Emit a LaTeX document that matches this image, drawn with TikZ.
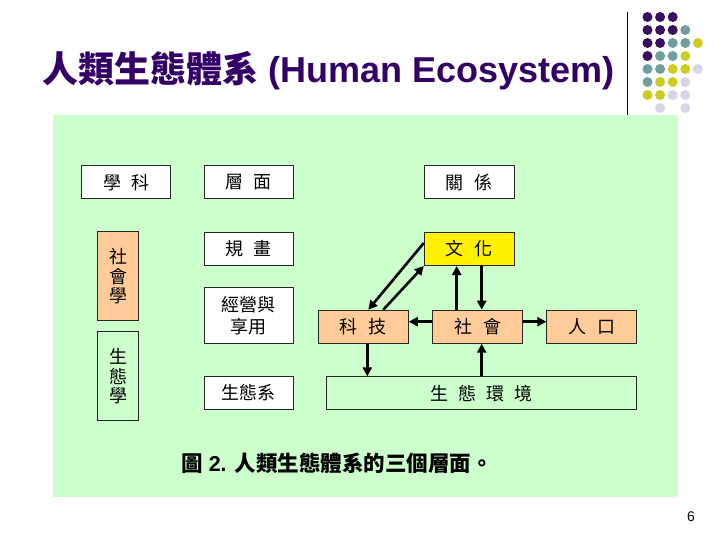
\documentclass[tikz,border=0pt]{standalone}
\usepackage{fontspec}
\setmainfont{Liberation Sans}
\newfontfamily\cjk{Noto Sans CJK TC}
\usetikzlibrary{arrows.meta}
\definecolor{titlepurple}{RGB}{51,0,102}
\definecolor{dotp}{RGB}{58,14,94}
\definecolor{dott}{RGB}{110,158,158}
\definecolor{doty}{RGB}{204,204,34}
\definecolor{dotl}{RGB}{214,214,232}
\definecolor{bggreen}{RGB}{204,255,204}
\definecolor{peach}{RGB}{255,204,153}
\begin{document}
\begin{tikzpicture}[x=1pt,y=-1pt,
  box/.style={draw=black!85,line width=1pt,fill=white,minimum width=89pt,minimum height=33pt,inner sep=0pt,font=\cjk\fontsize{18}{22}\selectfont,align=center},
  obox/.style={box,fill=peach},
  vbox/.style={box,minimum width=41pt,minimum height=89pt,font=\cjk\fontsize{18}{19.5}\selectfont},
  arr/.style={line width=2.6pt,-{Triangle[length=9pt,width=9pt]}},
  dot/.style={circle,inner sep=0pt,minimum size=10pt},
]
\useasboundingbox (0,0) rectangle (720,540);
\fill[white] (0,0) rectangle (720,540);
% title
\node[anchor=base west,inner sep=0pt,text=titlepurple,font=\bfseries\fontsize{36}{40}\selectfont] (title) at (42,83) {{\cjk 人類生態體系} (Human Ecosystem)};
\draw[line width=1pt] (627,12) -- (627,115);
% dots
\foreach \r/\c/\col in {0/0/dotp,0/1/dotp,0/2/dotp,
  1/0/dotp,1/1/dotp,1/2/dotp,1/3/dott,
  2/0/dotp,2/1/dotp,2/2/dott,2/3/dott,2/4/doty,
  3/0/dotp,3/1/dott,3/2/dott,3/3/doty,
  4/0/dott,4/1/dott,4/2/doty,4/3/doty,4/4/dotl,
  5/0/dott,5/1/doty,5/2/doty,5/3/dotl,
  6/0/doty,6/1/doty,6/2/dotl,6/3/dotl,
  7/1/dotl,7/3/dotl}
  \node[dot,fill=\col] (d\r\c) at ({647.5+12.6*\c},{17+13*\r}) {};
% background panel
\fill[bggreen] (53,115) rectangle (678,497);
% nodes
\node[box] (xueke) at (126.4,182.4) {學\hspace{0.55em}科};
\node[box] (cengmian) at (248.7,182.4) {層\hspace{0.55em}面};
\node[box,minimum width=90pt] (guanxi) at (469.3,182.4) {關\hspace{0.6em}係};
\node[box] (guihua) at (248.7,249) {規\hspace{0.55em}畫};
\node[box,minimum width=90pt,fill=yellow] (wenhua) at (469.3,249) {文\hspace{0.6em}化};
\node[box,minimum height=56pt] (jingying) at (248.7,315.3) {經營與\\享用};
\node[obox,minimum width=90pt] (keji) at (363.3,326.7) {科\hspace{0.6em}技};
\node[obox,minimum width=90pt] (shehui) at (477.7,326.7) {社\hspace{0.6em}會};
\node[obox,minimum width=90pt] (renkou) at (591.9,326.7) {人\hspace{0.6em}口};
\node[box,minimum width=310pt,fill=bggreen] (huanjing) at (481.7,393.4) {生\hspace{0.55em}態\hspace{0.55em}環\hspace{0.55em}境};
\node[box] (shengtaixi) at (248.7,393) {生態系};
\node[vbox,fill=peach] (shehuixue) at (118.4,276.2) {社\\會\\學};
\node[vbox,fill=bggreen] (shengtaixue) at (118.4,376.2) {生\\態\\學};
% connectors
\coordinate (xup) at (456.7,0);
\coordinate (xdown) at (481.7,0);
\coordinate (xkj) at (367.3,0);
\draw[arr] ([yshift=6pt]wenhua.west) -- ([xshift=5pt]keji.north);
\draw[arr] ([xshift=20pt]keji.north) -- (wenhua.south west);
\draw[arr] (shehui.north -| xup) -- (wenhua.south -| xup);
\draw[arr] (wenhua.south -| xdown) -- (shehui.north -| xdown);
\draw[arr] ([yshift=5pt]shehui.west) -- ([yshift=5pt]keji.east);
\draw[arr] ([yshift=5pt]shehui.east) -- ([yshift=5pt]renkou.west);
\draw[arr] (keji.south -| xkj) -- (huanjing.north -| xkj);
\draw[arr] (huanjing.north -| xdown) -- (shehui.south -| xdown);
% caption
\node[font=\bfseries\fontsize{21.5}{24}\selectfont,inner sep=0pt] (caption) at (337,463) {{\cjk 圖} 2. {\cjk 人類生態體系的三個層面。}};
% page number
\node[font=\fontsize{14}{16}\selectfont,inner sep=0pt] (pagenum) at (691,517) {6};
\end{tikzpicture}
\end{document}
